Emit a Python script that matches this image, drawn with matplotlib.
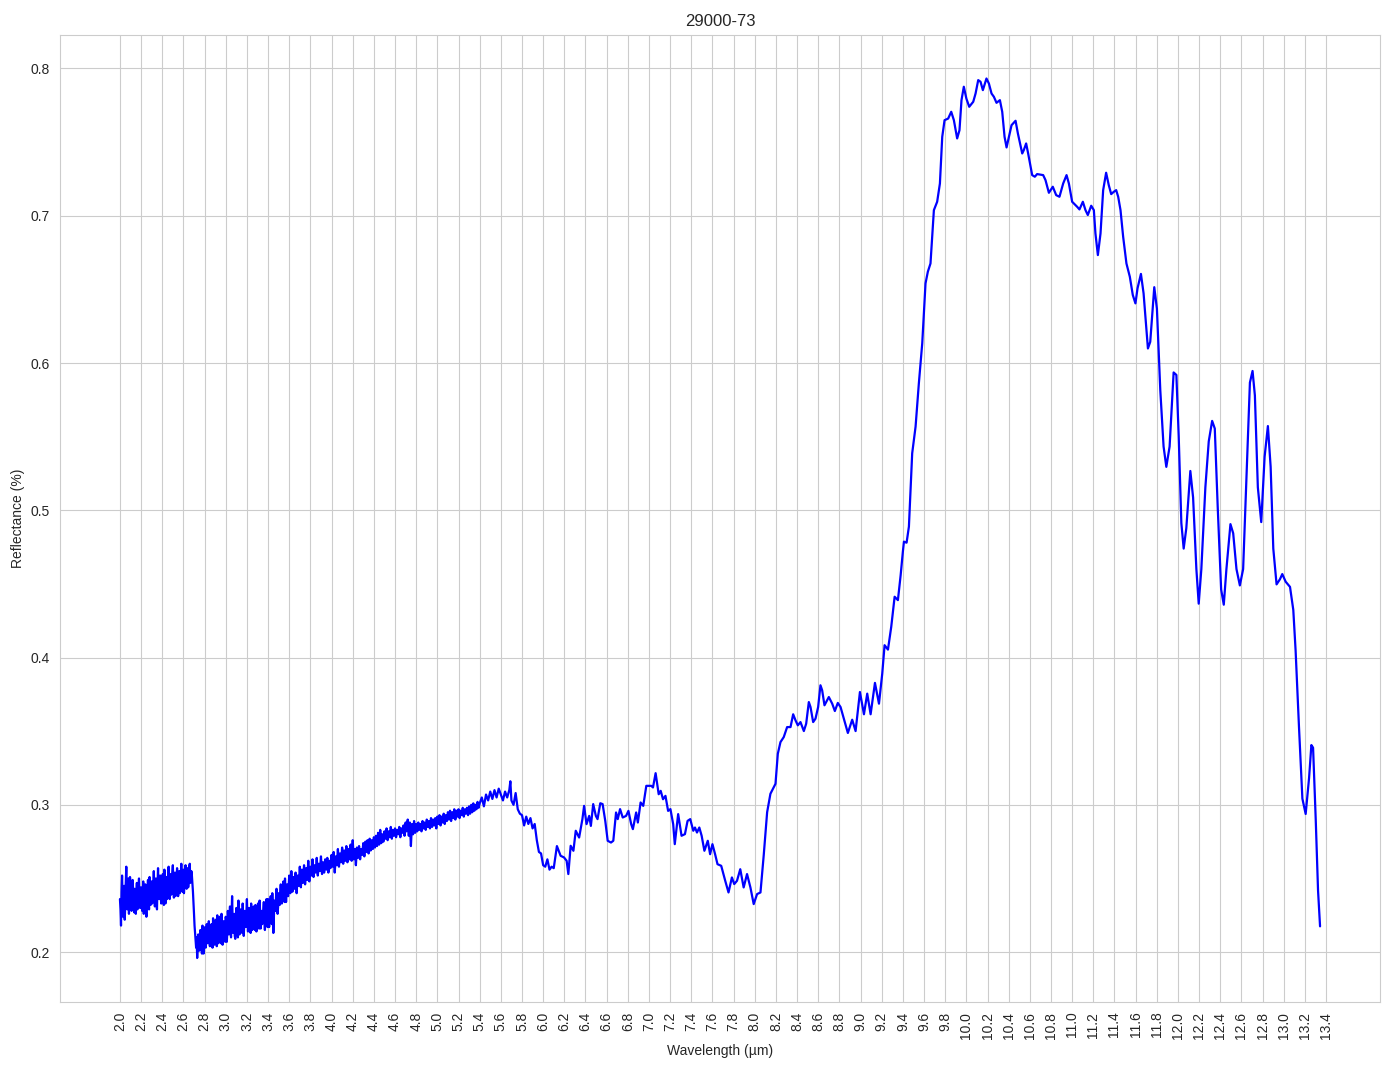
import numpy as np
import matplotlib
matplotlib.use('Agg')
import matplotlib.pyplot as plt
import seaborn as sns

# noisy part of the spectrum: (start, step) for each hand-read segment
seg_starts = [2.00, 2.69, 3.61, 4.51]
seg_steps = [0.005, 0.005, 0.01, 0.01]
seg_a = [0.236, 0.229, 0.218, 0.241, 0.252, 0.237, 0.224, 0.233, 0.245, 0.222, 0.231, 0.247, 0.258, 0.240, 0.229, 0.244, 0.250, 0.226, 0.235, 0.251,
         0.246, 0.238, 0.228, 0.235, 0.249, 0.241, 0.233, 0.227, 0.243, 0.236, 0.226, 0.239, 0.247, 0.229, 0.236, 0.244, 0.250, 0.238, 0.230, 0.237,
         0.244, 0.232, 0.228, 0.240, 0.248, 0.226, 0.234, 0.243, 0.246, 0.232, 0.224, 0.235, 0.243, 0.249, 0.237, 0.229, 0.251, 0.240, 0.232, 0.245,
         0.248, 0.233, 0.238, 0.247, 0.255, 0.242, 0.231, 0.238, 0.250, 0.236, 0.229, 0.245, 0.257, 0.241, 0.236, 0.248, 0.252, 0.238, 0.233, 0.244,
         0.249, 0.253, 0.239, 0.232, 0.256, 0.245, 0.233, 0.241, 0.251, 0.236, 0.240, 0.252, 0.258, 0.244, 0.236, 0.247, 0.253, 0.239, 0.242, 0.254,
         0.259, 0.246, 0.237, 0.249, 0.254, 0.238, 0.244, 0.251, 0.257, 0.243, 0.238, 0.250, 0.255, 0.240, 0.245, 0.253, 0.260, 0.249, 0.241, 0.252,
         0.256, 0.240, 0.246, 0.255, 0.259, 0.250, 0.243, 0.249, 0.257, 0.244, 0.248, 0.258, 0.260, 0.247, 0.250, 0.255, 0.252]
seg_b = [0.241, 0.234, 0.226, 0.218, 0.213, 0.207, 0.203, 0.210, 0.196, 0.205, 0.212, 0.204, 0.201, 0.209, 0.215, 0.208, 0.204, 0.199, 0.218, 0.210,
         0.199, 0.206, 0.212, 0.217, 0.203, 0.208, 0.219, 0.211, 0.206, 0.214, 0.221, 0.209, 0.204, 0.211, 0.214, 0.219, 0.207, 0.203, 0.223, 0.214,
         0.205, 0.211, 0.218, 0.222, 0.209, 0.204, 0.225, 0.216, 0.206, 0.213, 0.219, 0.224, 0.210, 0.206, 0.226, 0.217, 0.205, 0.212, 0.221, 0.215,
         0.211, 0.207, 0.224, 0.218, 0.207, 0.214, 0.228, 0.219, 0.212, 0.221, 0.231, 0.215, 0.210, 0.224, 0.238, 0.222, 0.213, 0.219, 0.226, 0.211,
         0.209, 0.218, 0.230, 0.224, 0.214, 0.210, 0.235, 0.222, 0.212, 0.221, 0.229, 0.226, 0.216, 0.213, 0.233, 0.224, 0.211, 0.219, 0.228, 0.222,
         0.217, 0.227, 0.236, 0.223, 0.214, 0.221, 0.230, 0.225, 0.218, 0.213, 0.233, 0.226, 0.215, 0.222, 0.227, 0.231, 0.219, 0.215, 0.232, 0.223,
         0.214, 0.220, 0.229, 0.233, 0.220, 0.216, 0.235, 0.227, 0.216, 0.224, 0.228, 0.219, 0.221, 0.229, 0.234, 0.222, 0.215, 0.225, 0.230, 0.236,
         0.222, 0.217, 0.236, 0.229, 0.217, 0.226, 0.232, 0.238, 0.223, 0.219, 0.240, 0.226, 0.213, 0.224, 0.235, 0.229, 0.228, 0.237, 0.243, 0.233,
         0.226, 0.231, 0.240, 0.236, 0.232, 0.241, 0.246, 0.237, 0.233, 0.239, 0.243, 0.248, 0.237, 0.234, 0.250, 0.242, 0.234, 0.240, 0.246, 0.239,
         0.238, 0.245, 0.252]
seg_c = [0.240, 0.255, 0.241, 0.251, 0.243, 0.254, 0.240, 0.252, 0.245, 0.258,
         0.244, 0.256, 0.247, 0.259, 0.246, 0.257, 0.249, 0.262, 0.248, 0.258,
         0.252, 0.263, 0.251, 0.259, 0.254, 0.264, 0.252, 0.260, 0.255, 0.265,
         0.253, 0.261, 0.254, 0.263, 0.256, 0.264, 0.254, 0.262, 0.257, 0.266,
         0.258, 0.268, 0.254, 0.265, 0.259, 0.270, 0.258, 0.267, 0.261, 0.271,
         0.260, 0.269, 0.262, 0.272, 0.261, 0.270, 0.263, 0.273, 0.262, 0.276,
         0.263, 0.270, 0.259, 0.271, 0.264, 0.272, 0.263, 0.270, 0.266, 0.274,
         0.265, 0.275, 0.268, 0.276, 0.267, 0.277, 0.269, 0.276, 0.270, 0.278,
         0.271, 0.279, 0.272, 0.281, 0.273, 0.283, 0.274, 0.280, 0.275, 0.282]
seg_d = [0.277, 0.284, 0.276, 0.282, 0.278, 0.285, 0.277, 0.283, 0.279, 0.284,
         0.278, 0.283, 0.280, 0.285, 0.278, 0.284, 0.281, 0.286, 0.279, 0.288,
         0.282, 0.290, 0.279, 0.288, 0.272, 0.287, 0.280, 0.289, 0.281, 0.287,
         0.282, 0.288, 0.283, 0.287, 0.282, 0.289, 0.284, 0.288, 0.283, 0.290,
         0.285, 0.289, 0.284, 0.291, 0.285, 0.290, 0.286, 0.291, 0.284, 0.292,
         0.287, 0.293, 0.286, 0.292, 0.288, 0.294, 0.287, 0.293, 0.289, 0.295,
         0.290, 0.296, 0.289, 0.295, 0.291, 0.297, 0.290, 0.296, 0.292, 0.297,
         0.291, 0.296, 0.293, 0.298, 0.292, 0.297, 0.294, 0.298, 0.293, 0.299,
         0.294, 0.300, 0.295, 0.301, 0.296, 0.300, 0.297, 0.302, 0.298, 0.301]

# rest of the spectrum, read point by point
wl_rest = [5.42, 5.44, 5.46, 5.48, 5.50, 5.52, 5.54, 5.56, 5.58, 5.60,
           5.62, 5.64, 5.66, 5.68, 5.69, 5.70, 5.72, 5.74, 5.76, 5.78,
           5.80, 5.82, 5.84, 5.86, 5.88, 5.90, 5.92, 5.94, 5.96, 5.98,
           6.00, 6.02, 6.04, 6.06, 6.08, 6.10, 6.13, 6.165, 6.197, 6.222,
           6.238, 6.26, 6.286, 6.308, 6.34, 6.371, 6.387, 6.41, 6.435, 6.451,
           6.473, 6.498, 6.514, 6.54, 6.562, 6.587, 6.61, 6.641, 6.663, 6.689,
           6.705, 6.727, 6.752, 6.784, 6.806, 6.832, 6.848, 6.879, 6.895, 6.921,
           6.946, 6.975, 7.022, 7.038, 7.063, 7.092, 7.111, 7.133, 7.156, 7.181,
           7.203, 7.229, 7.244, 7.276, 7.308, 7.34, 7.365, 7.39, 7.419, 7.435,
           7.454, 7.476, 7.498, 7.524, 7.556, 7.578, 7.6, 7.625, 7.648, 7.683,
           7.721, 7.752, 7.784, 7.806, 7.832, 7.863, 7.895, 7.927, 7.959, 7.99,
           8.022, 8.054, 8.085, 8.117, 8.148, 8.18, 8.196, 8.218, 8.243, 8.274,
           8.306, 8.338, 8.363, 8.385, 8.407, 8.432, 8.464, 8.486, 8.511, 8.527,
           8.552, 8.574, 8.599, 8.621, 8.637, 8.659, 8.70, 8.732, 8.757, 8.785,
           8.811, 8.842, 8.88, 8.921, 8.953, 8.994, 9.032, 9.063, 9.095, 9.136,
           9.174, 9.205, 9.227, 9.259, 9.29, 9.322, 9.353, 9.379, 9.40, 9.41,
           9.435, 9.457, 9.488, 9.52, 9.551, 9.583, 9.614, 9.636, 9.661, 9.693,
           9.724, 9.75, 9.772, 9.794, 9.828, 9.857, 9.882, 9.913, 9.935, 9.954,
           9.976, 10.0, 10.027, 10.065, 10.087, 10.112, 10.134, 10.156, 10.19, 10.213,
           10.238, 10.26, 10.285, 10.317, 10.339, 10.361, 10.38, 10.402, 10.427, 10.465,
           10.487, 10.528, 10.543, 10.565, 10.584, 10.622, 10.647, 10.669, 10.726, 10.748,
           10.78, 10.817, 10.849, 10.88, 10.915, 10.947, 10.969, 11.0, 11.047, 11.069,
           11.101, 11.126, 11.148, 11.18, 11.205, 11.22, 11.243, 11.268, 11.293, 11.321,
           11.346, 11.369, 11.394, 11.416, 11.435, 11.457, 11.482, 11.513, 11.545, 11.573,
           11.598, 11.618, 11.65, 11.675, 11.716, 11.738, 11.776, 11.801, 11.833, 11.864,
           11.89, 11.921, 11.959, 11.985, 12.007, 12.032, 12.054, 12.079, 12.117, 12.143,
           12.174, 12.196, 12.221, 12.259, 12.291, 12.323, 12.348, 12.376, 12.408, 12.433,
           12.458, 12.496, 12.522, 12.553, 12.585, 12.616, 12.648, 12.68, 12.705, 12.727,
           12.755, 12.787, 12.819, 12.85, 12.876, 12.901, 12.932, 12.964, 12.986, 13.018,
           13.059, 13.09, 13.112, 13.144, 13.176, 13.207, 13.239, 13.261, 13.277, 13.302,
           13.324, 13.343]
refl_rest = [0.305, 0.299, 0.307, 0.303, 0.309, 0.304, 0.310, 0.305, 0.311, 0.307,
             0.303, 0.309, 0.305, 0.310, 0.316, 0.303, 0.300, 0.308, 0.297, 0.294,
             0.293, 0.286, 0.292, 0.287, 0.291, 0.284, 0.287, 0.276, 0.268, 0.267,
             0.259, 0.258, 0.263, 0.256, 0.258, 0.257, 0.272, 0.2654, 0.2643, 0.262,
             0.253, 0.2722, 0.2688, 0.2824, 0.2778, 0.2903, 0.2993, 0.2869, 0.2925, 0.2857,
             0.3005, 0.2925, 0.2903, 0.3011, 0.3005, 0.2891, 0.2756, 0.2744, 0.2756, 0.2948,
             0.2903, 0.2971, 0.2914, 0.2925, 0.2959, 0.2869, 0.2835, 0.2948, 0.288, 0.3016,
             0.2993, 0.3129, 0.3129, 0.3118, 0.3215, 0.3072, 0.3095, 0.3038, 0.3061, 0.2959,
             0.2971, 0.2869, 0.2733, 0.2937, 0.279, 0.2801, 0.2891, 0.2903, 0.2824, 0.2846,
             0.2812, 0.2846, 0.279, 0.2688, 0.2756, 0.2665, 0.2733, 0.2665, 0.2597, 0.2586,
             0.2484, 0.2405, 0.2507, 0.2462, 0.2484, 0.2563, 0.2439, 0.253, 0.2439, 0.2326,
             0.2394, 0.2405, 0.266, 0.295, 0.3075, 0.312, 0.3143, 0.3347, 0.3426, 0.346,
             0.3528, 0.3528, 0.3615, 0.3574, 0.354, 0.3562, 0.3501, 0.3551, 0.3698, 0.3664,
             0.3562, 0.3585, 0.3664, 0.3812, 0.3778, 0.3676, 0.3732, 0.3687, 0.3637, 0.3692,
             0.3664, 0.3585, 0.3488, 0.3578, 0.3501, 0.3766, 0.3615, 0.3755, 0.3615, 0.3828,
             0.3687, 0.3891, 0.4084, 0.4054, 0.4209, 0.4413, 0.439, 0.456, 0.472, 0.4787,
             0.478, 0.4889, 0.5387, 0.5568, 0.5862, 0.6134, 0.6541, 0.662, 0.6676, 0.7038,
             0.7095, 0.7219, 0.7536, 0.7649, 0.766, 0.7706, 0.7649, 0.7525, 0.7581, 0.7785,
             0.7876, 0.7796, 0.774, 0.7774, 0.783, 0.7921, 0.791, 0.7853, 0.7932, 0.7898,
             0.783, 0.7808, 0.7767, 0.7785, 0.7706, 0.7536, 0.7464, 0.7536, 0.7615, 0.7645,
             0.7559, 0.7423, 0.7446, 0.7491, 0.7423, 0.7276, 0.7265, 0.7283, 0.7276, 0.7242,
             0.7156, 0.7197, 0.714, 0.7129, 0.7219, 0.7276, 0.7219, 0.7095, 0.7061, 0.7043,
             0.7095, 0.7038, 0.7005, 0.7068, 0.7038, 0.688, 0.6733, 0.688, 0.7174, 0.7292,
             0.7208, 0.7147, 0.7163, 0.7174, 0.7129, 0.7038, 0.6857, 0.6676, 0.6586, 0.6462,
             0.6405, 0.6508, 0.6605, 0.6473, 0.6099, 0.6144, 0.6515, 0.6369, 0.5815, 0.5433,
             0.5295, 0.5433, 0.5936, 0.5919, 0.5503, 0.4913, 0.474, 0.4879, 0.5267, 0.5087,
             0.4601, 0.4366, 0.4601, 0.5156, 0.5468, 0.5607, 0.5555, 0.5017, 0.4463, 0.4359,
             0.4601, 0.4906, 0.4844, 0.4601, 0.449, 0.4601, 0.5225, 0.5867, 0.5946, 0.578,
             0.5156, 0.492, 0.5364, 0.5572, 0.5295, 0.474, 0.4497, 0.4532, 0.4567, 0.4515,
             0.448, 0.4324, 0.4047, 0.3527, 0.3042, 0.2938, 0.3181, 0.3406, 0.3388, 0.2903,
             0.2418, 0.2175]

wl = []
refl = []
for start, step, seg in zip(seg_starts, seg_steps, [seg_a, seg_b, seg_c, seg_d]):
    wl.extend(start + step * np.arange(len(seg)))
    refl.extend(seg)
wl.extend(wl_rest)
refl.extend(refl_rest)

sns.set_style('whitegrid')
plt.rcParams['font.family'] = ['Liberation Sans', 'DejaVu Sans']

fig = plt.figure(figsize=(13.94, 10.69), dpi=100)
ax = fig.add_axes([0.043, 0.0627, 0.947, 0.905])
ax.plot(wl, refl, color='blue', linewidth=1.6)

ticks = np.round(np.arange(2.0, 13.41, 0.2), 1)
ax.set_xticks(ticks)
ax.set_xticklabels(['%.1f' % t for t in ticks], rotation=90)
ax.set_title('29000-73', fontsize=12)
ax.set_xlabel('Wavelength (µm)')
ax.set_ylabel('Reflectance (%)')

fig.savefig('out.png', dpi=100)
